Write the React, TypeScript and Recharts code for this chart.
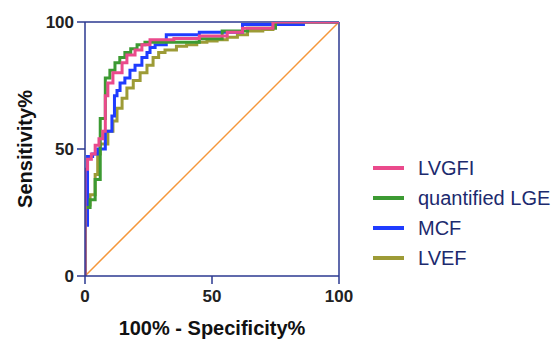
import { LineChart, Line, XAxis, YAxis, ReferenceLine, Legend } from "recharts";

// ROC points as [100% - specificity, sensitivity]
const LVGFI: [number, number][] = [
  [0, 0], [0, 42], [1, 46], [2.5, 48], [4, 51.5], [5.5, 54], [7, 57], [8, 60], [8, 71],
  [9, 76], [11, 80], [14.6, 84], [16.5, 87], [19.7, 89], [22.4, 91], [25.6, 93],
  [35, 93.5], [45, 94.5], [56, 96], [62, 97.5], [74, 100], [100, 100],
];
const QUANT_LGE: [number, number][] = [
  [0, 0], [0, 27], [2, 30], [4, 38], [6, 40], [6, 62], [8, 71], [8, 78], [9.8, 81],
  [11.8, 84], [13.7, 86], [15.7, 88], [18, 89.5], [20.5, 91], [23.6, 92], [45, 93.4],
  [54, 96.5], [64, 97.5], [75, 100], [100, 100],
];
const MCF: [number, number][] = [
  [0, 0], [0, 20], [1, 47], [3, 48], [5, 50], [8, 57], [10.6, 63], [11.6, 71], [12.6, 73],
  [13.8, 76], [15.7, 78], [17.7, 81], [19.7, 83], [22.4, 86], [24.4, 88], [25.6, 90],
  [27.6, 91], [32, 95], [45, 96], [62, 99], [86, 100], [100, 100],
];
const LVEF: [number, number][] = [
  [0, 0], [0, 28], [2, 32], [4, 40], [5, 48], [6, 52], [9, 57], [11, 61], [12.6, 66],
  [14.6, 70], [16.5, 74], [19, 77], [21.7, 80], [24.4, 83], [26.8, 86], [29, 88],
  [31.5, 89], [36, 90.5], [40, 91], [44, 92], [48, 92.5], [52, 93], [56, 94], [60, 95],
  [64, 96.5], [70, 97], [74, 100], [100, 100],
];
const CHANCE: [number, number][] = [[0, 0], [100, 100]];

const TICKS = [0, 50, 100];

const NAVY = "#2b3990";
const FONT = "Liberation Sans, Arial, sans-serif";
const SERIES = [
  { name: "LVGFI", color: "#ea4a8c" },
  { name: "quantified LGE", color: "#3c9a32" },
  { name: "MCF", color: "#1f3cff" },
  { name: "LVEF", color: "#9d9b36" },
];

const toData = (pts: [number, number][]) => pts.map(([x, y]) => ({ x, y }));

const tickStyle = { fontSize: 17, fontWeight: 700, fill: "#222", fontFamily: FONT };
const titleStyle = { fontSize: 20, fontWeight: 700, fill: "#111", fontFamily: FONT };

function LegendBox() {
  return (
    <div style={{ fontFamily: FONT }}>
      {SERIES.map((s) => (
        <div key={s.name} style={{ display: "flex", alignItems: "center", height: 30 }}>
          <div style={{ width: 31, height: 3.5, background: s.color, marginRight: 14 }} />
          <span style={{ fontSize: 20, color: "#1c2a6e", whiteSpace: "nowrap" }}>{s.name}</span>
        </div>
      ))}
    </div>
  );
}

export default function App() {
  return (
    <div style={{ position: "absolute", left: 0, top: 0, background: "#fff" }}>
      <LineChart
        width={555}
        height={339}
        margin={{ top: 22, right: 216, bottom: 2, left: 25 }}
      >
        <XAxis
          dataKey="x"
          type="number"
          domain={[0, 100]}
          ticks={TICKS}
          allowDataOverflow
          height={61}
          stroke={NAVY}
          strokeWidth={1.5}
          tickSize={8}
          tickMargin={6}
          tick={tickStyle}
          label={{ value: "100% - Specificity%", position: "insideBottom", offset: 2, ...titleStyle }}
        />
        <YAxis
          dataKey="y"
          type="number"
          domain={[0, 100]}
          ticks={TICKS}
          allowDataOverflow
          width={60}
          stroke={NAVY}
          strokeWidth={1.5}
          tickSize={8}
          tickMargin={3}
          tick={tickStyle}
          label={{
            value: "Sensitivity%",
            angle: -90,
            position: "insideLeft",
            offset: 0,
            textAnchor: "middle",
            ...titleStyle,
          }}
        />
        <ReferenceLine y={100} stroke={NAVY} strokeWidth={1.5} />
        <ReferenceLine x={100} stroke={NAVY} strokeWidth={1.5} />
        <Line
          data={toData(CHANCE)}
          dataKey="y"
          type="linear"
          stroke="#f5973a"
          strokeWidth={1.5}
          dot={false}
          isAnimationActive={false}
          legendType="none"
        />
        <Line
          data={toData(LVEF)}
          dataKey="y"
          name="LVEF"
          type="stepAfter"
          stroke={SERIES[3].color}
          strokeWidth={3}
          dot={false}
          isAnimationActive={false}
        />
        <Line
          data={toData(MCF)}
          dataKey="y"
          name="MCF"
          type="stepAfter"
          stroke={SERIES[2].color}
          strokeWidth={3}
          dot={false}
          isAnimationActive={false}
        />
        <Line
          data={toData(QUANT_LGE)}
          dataKey="y"
          name="quantified LGE"
          type="stepAfter"
          stroke={SERIES[1].color}
          strokeWidth={3}
          dot={false}
          isAnimationActive={false}
        />
        <Line
          data={toData(LVGFI)}
          dataKey="y"
          name="LVGFI"
          type="stepAfter"
          stroke={SERIES[0].color}
          strokeWidth={3}
          dot={false}
          isAnimationActive={false}
        />
        <Legend
          layout="vertical"
          align="center"
          verticalAlign="middle"
          content={() => <LegendBox />}
          wrapperStyle={{ left: 373, top: 153, width: 182 }}
        />
      </LineChart>
    </div>
  );
}
